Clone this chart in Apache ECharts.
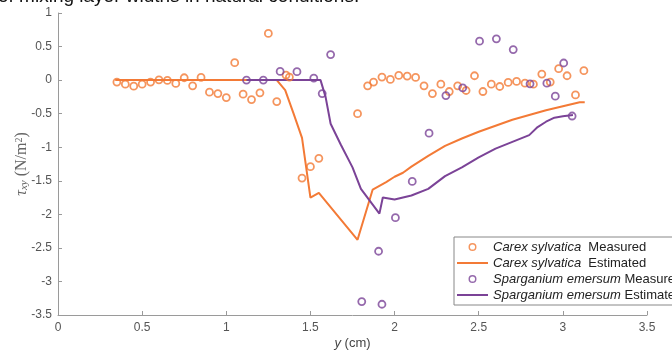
<!DOCTYPE html>
<html>
<head>
<meta charset="utf-8">
<script src="https://cdn.jsdelivr.net/npm/echarts@6/dist/echarts.min.js"></script>
<style>
  html, body { margin: 0; padding: 0; background: #fff; }
  #chart { width: 672px; height: 352px; }
</style>
</head>
<body>
<div id="chart"></div>
<script>
// Carex sylvatica, measured
const carexMeasX = [0.35, 0.40, 0.45, 0.50, 0.55, 0.60, 0.65, 0.70, 0.75, 0.80, 0.85, 0.90, 0.95, 1.00,
    1.05, 1.10, 1.15, 1.20, 1.25, 1.30, 1.355, 1.375, 1.45, 1.50, 1.55, 1.78, 1.84, 1.875, 1.925,
    1.975, 2.025, 2.075, 2.125, 2.175, 2.225, 2.275, 2.325, 2.375, 2.425, 2.475, 2.525, 2.575,
    2.625, 2.675, 2.725, 2.775, 2.825, 2.875, 2.925, 2.975, 3.025, 3.075, 3.125];
const carexMeasY = [-0.03, -0.06, -0.09, -0.06, -0.03, 0.005, -0.005, -0.05, 0.035, -0.085, 0.04, -0.18, -0.2, -0.26,
    0.26, -0.21, -0.29, -0.19, 0.695, -0.32, 0.075, 0.045, -1.46, -1.29, -1.165, -0.5, -0.085, -0.03, 0.045,
    0.01, 0.07, 0.06, 0.04, -0.085, -0.2, -0.06, -0.17, -0.085, -0.155, 0.065, -0.17, -0.06,
    -0.095, -0.035, -0.02, -0.045, -0.06, 0.09, -0.03, 0.17, 0.065, -0.22, 0.14];

// Carex sylvatica, estimated
const carexEstX = [0.34, 1.30, 1.35, 1.40, 1.45, 1.50, 1.55, 1.78, 1.87, 1.95, 2.0, 2.05, 2.1, 2.2, 2.3,
    2.4, 2.5, 2.6, 2.7, 2.8, 2.9, 3.0, 3.05, 3.1, 3.13];
const carexEstY = [0, 0, -0.15, -0.5, -0.86, -1.75, -1.68, -2.38, -1.63, -1.52, -1.44, -1.38, -1.29, -1.13, -0.98,
    -0.87, -0.77, -0.68, -0.59, -0.52, -0.45, -0.39, -0.36, -0.33, -0.33];

// Sparganium emersum, measured
const sparMeasX = [1.12, 1.22, 1.32, 1.42, 1.52, 1.57, 1.62, 1.805, 1.905, 1.925, 2.005, 2.105, 2.205,
    2.305, 2.405, 2.505, 2.605, 2.705, 2.805, 2.905, 2.955, 3.005, 3.055];
const sparMeasY = [0, 0, 0.13, 0.125, 0.03, -0.2, 0.38, -3.3, -2.55, -3.34, -2.05, -1.51, -0.79,
    -0.23, -0.115, 0.58, 0.615, 0.455, -0.055, -0.045, -0.24, 0.255, -0.535];

// Sparganium emersum, estimated
const sparEstX = [1.12, 1.56, 1.59, 1.62, 1.68, 1.75, 1.80, 1.91, 1.93, 2.0, 2.1, 2.2, 2.3, 2.4, 2.5,
    2.6, 2.7, 2.8, 2.85, 2.9, 2.95, 3.0, 3.06];
const sparEstY = [0, 0, -0.25, -0.65, -0.96, -1.3, -1.62, -1.99, -1.75, -1.78, -1.72, -1.62, -1.43, -1.3, -1.15,
    -1.02, -0.92, -0.82, -0.7, -0.62, -0.56, -0.54, -0.52];

const ORANGE = '#F37A36';
const PURPLE = '#7B4397';

const zip = (xs, ys) => xs.map((x, i) => [x, ys[i]]);

const names = {
    'Carex sylvatica Measured': '{i|Carex sylvatica}  Measured',
    'Carex sylvatica Estimated': '{i|Carex sylvatica}  Estimated',
    'Sparganium emersum Measured': '{i|Sparganium emersum} Measured',
    'Sparganium emersum Estimated': '{i|Sparganium emersum} Estimated'
};

const LINE_ICON = 'path://M0,0h31v2h-31z';
const RING_ICON = 'path://M5,0A5,5,0,1,1,4.99,0ZM5,1.8A3.2,3.2,0,1,0,5.01,1.8Z';

const axisLine = { show: true, onZero: false, lineStyle: { color: '#9a9a9a', width: 1 } };
const axisTick = { show: true, inside: true, length: 4, lineStyle: { color: '#9a9a9a' } };

const option = {
    animation: false,
    grid: { left: 58, right: 25, top: 13, bottom: 37, containLabel: false, outerBoundsMode: 'none' },
    graphic: [{
        type: 'text',
        x: -2,
        y: 6,
        style: {
            text: 'of mixing layer widths in natural conditions.',
            font: '19px "Liberation Sans"',
            fill: '#111',
            verticalAlign: 'bottom'
        }
    }],
    xAxis: {
        type: 'value',
        min: 0, max: 3.5, interval: 0.5,
        axisLine, axisTick,
        splitLine: { show: false },
        axisLabel: { color: '#555', fontSize: 12, fontFamily: 'Liberation Sans', margin: 7 },
        name: '{i|y} (cm)',
        nameLocation: 'middle',
        nameGap: 22,
        nameMoveOverlap: false,
        nameTextStyle: {
            color: '#444', fontSize: 13, fontFamily: 'Liberation Sans',
            rich: { i: { fontStyle: 'italic', fontSize: 13, color: '#444', fontFamily: 'Liberation Sans' } }
        }
    },
    yAxis: {
        type: 'value',
        min: -3.5, max: 1, interval: 0.5,
        axisLine, axisTick,
        splitLine: { show: false },
        axisLabel: { color: '#555', fontSize: 12, fontFamily: 'Liberation Sans', margin: 6 },
        name: '{t|τ}{s|xy} (N/m{p|2})',
        nameLocation: 'middle',
        nameGap: 28,
        nameMoveOverlap: false,
        nameTextStyle: {
            color: '#666', fontSize: 16, fontFamily: 'Liberation Serif',
            rich: {
                t: { fontStyle: 'italic', fontSize: 16, color: '#666', fontFamily: 'Liberation Serif' },
                s: { fontStyle: 'italic', fontSize: 11, color: '#666', fontFamily: 'Liberation Serif', verticalAlign: 'bottom' },
                p: { fontSize: 10, color: '#666', fontFamily: 'Liberation Serif', verticalAlign: 'top' }
            }
        }
    },
    legend: {
        orient: 'vertical',
        left: 454,
        top: 237,
        padding: [2, 6, 2, 3],
        itemWidth: 31,
        itemHeight: 8,
        itemGap: 0,
        itemTextGap: 6,
        backgroundColor: '#fff',
        borderColor: '#888',
        borderWidth: 1,
        borderRadius: 0,
        data: [
            { name: 'Carex sylvatica Measured', icon: RING_ICON, itemStyle: { color: ORANGE, borderWidth: 0 } },
            { name: 'Carex sylvatica Estimated', icon: LINE_ICON, itemStyle: { color: ORANGE, borderWidth: 0 } },
            { name: 'Sparganium emersum Measured', icon: RING_ICON, itemStyle: { color: PURPLE, borderWidth: 0 } },
            { name: 'Sparganium emersum Estimated', icon: LINE_ICON, itemStyle: { color: PURPLE, borderWidth: 0 } }
        ],
        formatter: n => names[n],
        textStyle: {
            color: '#222', fontSize: 13, fontFamily: 'Liberation Sans', lineHeight: 16,
            rich: { i: { fontStyle: 'italic', color: '#222', fontSize: 13, fontFamily: 'Liberation Sans', lineHeight: 16 } }
        }
    },
    series: [
        {
            name: 'Carex sylvatica Estimated',
            type: 'line',
            data: zip(carexEstX, carexEstY),
            symbol: 'none',
            lineStyle: { color: ORANGE, width: 2 },
            itemStyle: { color: ORANGE },
            z: 2
        },
        {
            name: 'Sparganium emersum Estimated',
            type: 'line',
            data: zip(sparEstX, sparEstY),
            symbol: 'none',
            lineStyle: { color: PURPLE, width: 2 },
            itemStyle: { color: PURPLE },
            z: 2
        },
        {
            name: 'Carex sylvatica Measured',
            type: 'scatter',
            data: zip(carexMeasX, carexMeasY),
            symbol: 'circle',
            symbolSize: 7,
            itemStyle: { color: 'rgba(255,255,255,0)', borderColor: ORANGE, borderWidth: 1.8 },
            z: 3
        },
        {
            name: 'Sparganium emersum Measured',
            type: 'scatter',
            data: zip(sparMeasX, sparMeasY),
            symbol: 'circle',
            symbolSize: 7,
            itemStyle: { color: 'rgba(255,255,255,0)', borderColor: PURPLE, borderWidth: 1.8 },
            z: 3
        }
    ]
};

const chart = echarts.init(document.getElementById('chart'));
chart.setOption(option);
</script>
</body>
</html>
